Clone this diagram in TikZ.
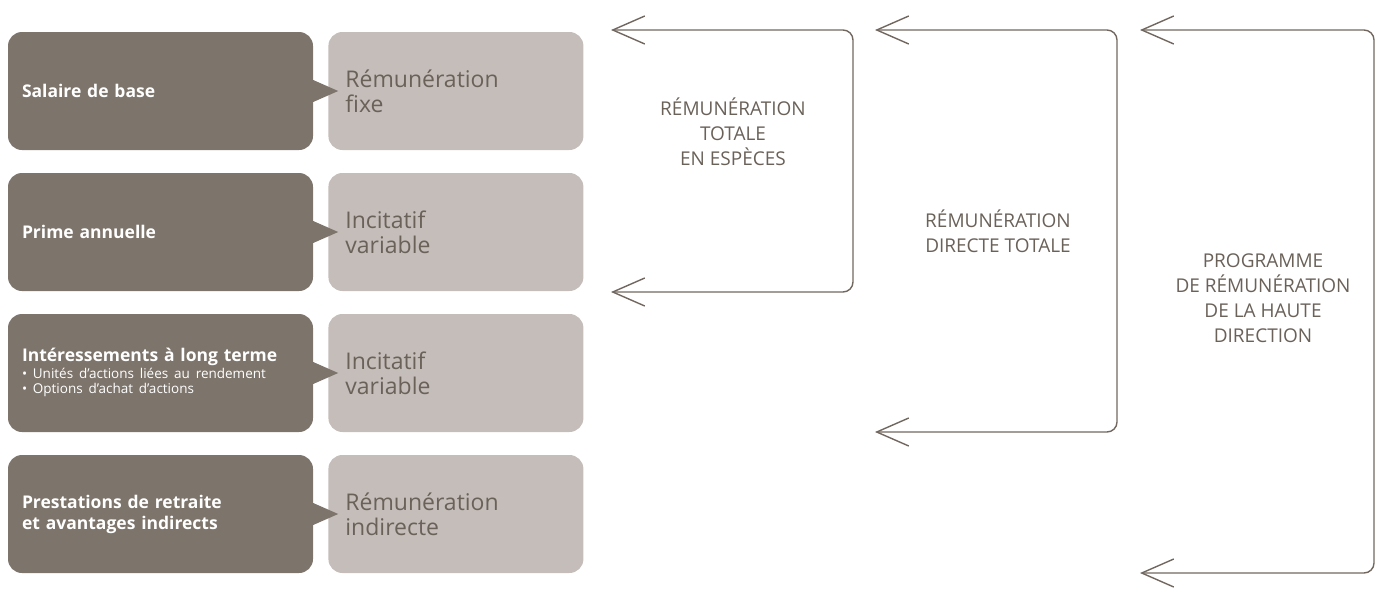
\documentclass[tikz,border=0pt]{standalone}
\usepackage{fontspec}
\setmainfont{Open Sans}
\usetikzlibrary{
  calc,%
  arrows.meta,%
  positioning
}
\definecolor{darkbox}{RGB}{125,116,107}
\definecolor{lightbox}{RGB}{197,189,185}
\definecolor{linegrey}{RGB}{113,103,95}
\definecolor{labelgrey}{RGB}{106,97,89}
\tikzset{>={Straight Barb[length=32pt, width=28pt]}}
\tikzset{
  compbox/.style={fill=darkbox, rounded corners=14pt, text=white,
    minimum width=305pt, minimum height=118pt, text width=277pt,
    inner xsep=14pt, align=left,
    font=\fontsize{17.5}{21}\selectfont\bfseries},
  kindbox/.style={fill=lightbox, rounded corners=14pt, text=labelgrey,
    minimum width=255pt, minimum height=118pt, text width=221pt,
    inner xsep=17pt, align=left,
    font=\fontsize{23}{25}\selectfont},
  bracket/.style={<->, draw=linegrey, line width=1.4pt, rounded corners=10pt},
  bracketlabel/.style={text=labelgrey, align=center,
    font=\fontsize{19}{25}\selectfont},
}
\newcommand{\bulletlist}[1]{{\mdseries\fontsize{13.5}{14.5}\selectfont
    \begin{tabular}{@{}l@{}}#1\end{tabular}}}

\begin{document}
\begin{tikzpicture}[x=1pt, y=-1pt]
  \useasboundingbox (0,0) rectangle (1375,589);
  % the four components and what kind of pay they are
  \foreach \i/\comp/\kind in {%
      1/{Salaire de base}/{Rémunération\\fixe},
      2/{Prime annuelle}/{Incitatif\\variable},
      3/{Intéressements à long terme\\[1pt]\bulletlist{• Unités d’actions liées au rendement\\• Options d’achat d’actions}}/{Incitatif\\variable},
      4/{Prestations de retraite\\et avantages indirects}/{Rémunération\\indirecte}}
  {
    \node[compbox] (comp\i) at (160.5, {91+141*(\i-1)}) {\comp};
    \node[kindbox, right=15pt of comp\i] (kind\i) {\kind};
    \fill[darkbox] ($(comp\i.east)+(0,-11)$) -- ++(25,11)
      -- ($(comp\i.east)+(0,11)$) -- cycle;
  }
  % brackets on the right
  \node[bracketlabel] (cash) at (733,132) {RÉMUNÉRATION\\TOTALE\\EN ESPÈCES};
  \node[bracketlabel] (direct) at (998,231) {RÉMUNÉRATION\\DIRECTE TOTALE};
  \node[bracketlabel] (program) at (1263,298)
    {PROGRAMME\\DE RÉMUNÉRATION\\DE LA HAUTE\\DIRECTION};
  \foreach \name/\x/\r/\ybot in {cash/611/853/292, direct/875/1117/432,
      program/1140/1374/573}
  {
    \coordinate (\name top) at (\x,30);
    \coordinate (\name bot) at (\x,\ybot);
    \draw[bracket] (\name top) -- (\r,30) -- (\r,\ybot) -- (\name bot);
  }
\end{tikzpicture}
\end{document}
